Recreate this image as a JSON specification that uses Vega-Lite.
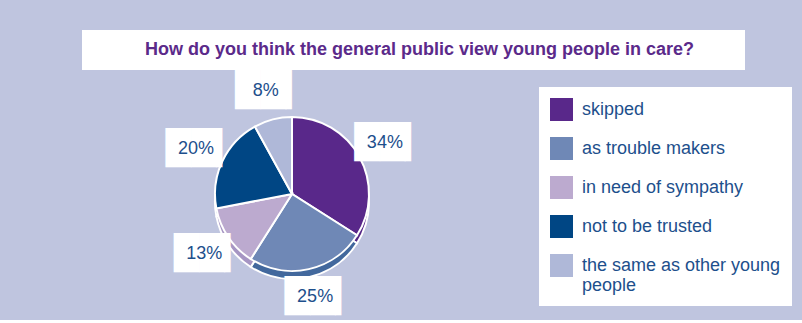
{
  "$schema": "https://vega.github.io/schema/vega-lite/v6.json",
  "background": "#bfc5df",
  "padding": {"left": 82, "top": 30, "right": 11, "bottom": 5},
  "bounds": "flush",
  "spacing": 17,
  "config": {"font": "Liberation Sans", "view": {"stroke": null}},
  "datasets": {
    "answers": [
      {"k": 1, "answer": "skipped", "pct": 34, "label": "34%"},
      {"k": 2, "answer": "as trouble makers", "pct": 25, "label": "25%"},
      {"k": 3, "answer": "in need of sympathy", "pct": 13, "label": "13%"},
      {"k": 4, "answer": "not to be trusted", "pct": 20, "label": "20%"},
      {"k": 5, "answer": "the same as other young people", "pct": 8, "label": "8%"}
    ],
    "heading": [{"t": "How do you think the general public view young people in care?"}]
  },
  "vconcat": [
    {
      "width": 663,
      "height": 40,
      "view": {"fill": "white", "stroke": null},
      "data": {"name": "heading"},
      "mark": {"type": "text", "font": "Liberation Sans", "fontWeight": "bold", "fontSize": 18, "color": "#5b2a8a", "baseline": "middle", "align": "center", "dx": 6},
      "encoding": {"text": {"field": "t", "type": "nominal"}}
    },
    {
      "width": 420,
      "height": 214,
      "data": {"name": "answers"},
      "encoding": {
        "theta": {"field": "pct", "type": "quantitative", "stack": true},
        "order": {"field": "k", "type": "quantitative"}
      },
      "layer": [
        {
          "mark": {"type": "arc", "outerRadius": 77, "yOffset": 8, "stroke": "white", "strokeWidth": 2},
          "encoding": {
            "color": {
              "field": "answer", "type": "nominal", "legend": null,
              "scale": {
                "domain": ["skipped", "as trouble makers", "in need of sympathy", "not to be trusted", "the same as other young people"],
                "range": ["#552686", "#42689d", "#a695c3", "#00427c", "#9aa3c9"]
              }
            }
          }
        },
        {
          "mark": {"type": "arc", "outerRadius": 77, "stroke": "white", "strokeWidth": 2},
          "encoding": {
            "color": {
              "field": "answer", "type": "nominal",
              "scale": {
                "domain": ["skipped", "as trouble makers", "in need of sympathy", "not to be trusted", "the same as other young people"],
                "range": ["#59288a", "#6f88b6", "#bcaacf", "#004684", "#afb8d8"]
              },
              "legend": {
                "title": null,
                "orient": "right",
                "offset": 37,
                "fillColor": "white",
                "strokeColor": null,
                "padding": 11,
                "symbolType": "square",
                "symbolSize": 529,
                "symbolStrokeWidth": 0,
                "symbolOpacity": 1,
                "labelFont": "Liberation Sans",
                "labelFontSize": 18,
                "labelColor": "#1d4f8c",
                "labelOffset": 9,
                "labelLimit": 400,
                "rowPadding": 16,
                "labelExpr": "datum.label == 'the same as other young people' ? ['the same as other young', 'people'] : datum.label"
              }
            }
          }
        },
        {
          "mark": {"type": "text", "radius": 106, "text": "██▎", "font": "DejaVu Sans", "fontSize": 33, "dx": 7.5, "color": "white", "baseline": "middle", "align": "center"}
        },
        {
          "mark": {"type": "text", "radius": 106, "font": "Liberation Sans", "fontSize": 18, "color": "#1d4f8c", "baseline": "middle", "align": "center"},
          "encoding": {"text": {"field": "label", "type": "nominal"}}
        }
      ],
      "resolve": {"scale": {"color": "independent"}}
    }
  ]
}
